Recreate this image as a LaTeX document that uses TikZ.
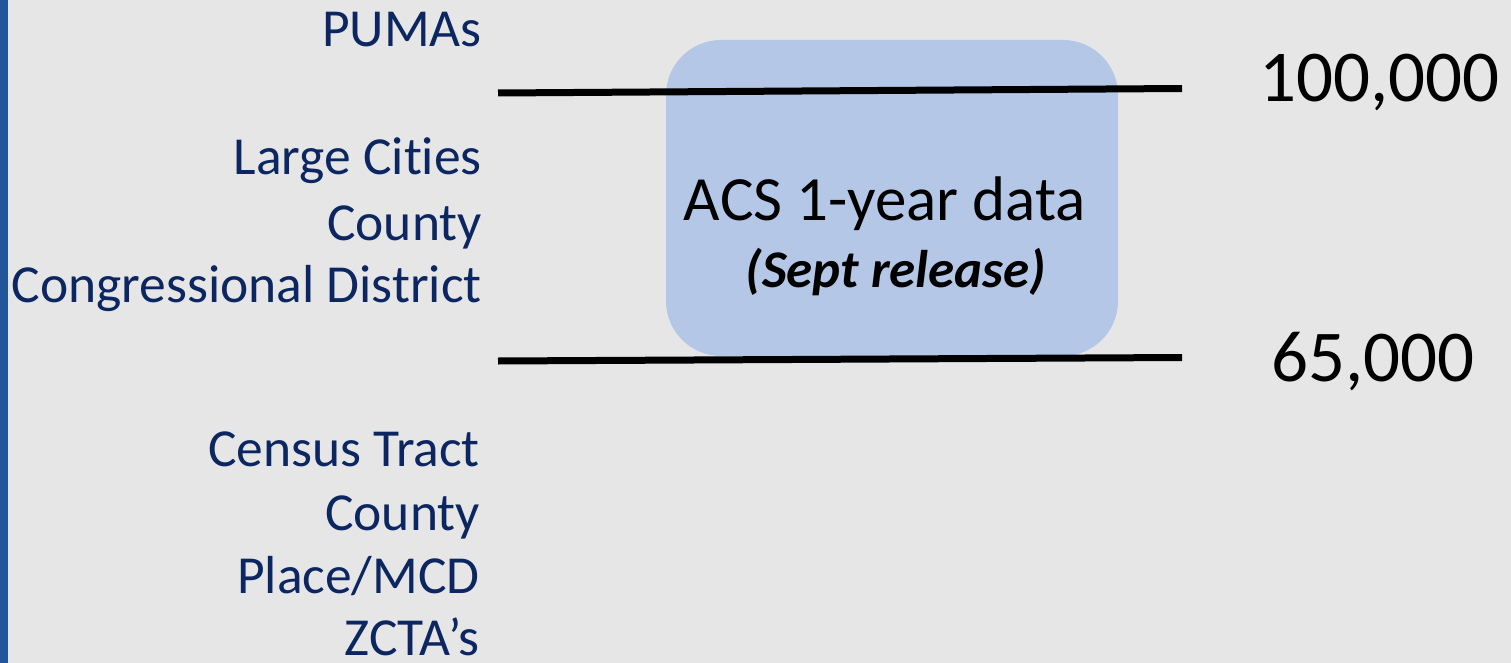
\documentclass[tikz,border=0pt]{standalone}
\usepackage{fontspec}
\setmainfont{Carlito}[RawFeature=-liga]
\definecolor{bg}{HTML}{E7E6E6}
\definecolor{bar}{HTML}{22559A}
\definecolor{navy}{HTML}{0B2661}
\definecolor{boxfill}{HTML}{B4C7E7}
\tikzset{
  geo/.style={anchor=base east, inner sep=0pt, text=navy, font=\fontsize{53.5}{64}\selectfont},
  num/.style={anchor=base west, inner sep=0pt, text=black, font=\fontsize{73}{88}\selectfont},
  thresh/.style={line width=7pt, black},
}
\begin{document}
\begin{tikzpicture}[x=1pt,y=-1pt]
\useasboundingbox (0,0) rectangle (1511,663);
\fill[bg] (0,0) rectangle (1511,663);
\fill[bar] (0,0) rectangle (8,663);
% box
\node[draw=none, fill=boxfill, rounded corners=55pt, minimum width=452pt, minimum height=316pt, inner sep=0pt] (acs) at (892,198) {};
\node[anchor=base, inner sep=0pt, font=\fontsize{63}{76}\selectfont] (acst) at (885,220) {ACS 1-year data};
\node[anchor=base, inner sep=0pt, font=\fontsize{53}{64}\selectfont\bfseries\itshape] (sept) at (896,287) {(Sept release)};
% lines
\coordinate (t1) at (498,93);
\coordinate (t2) at (1182,88.5);
\coordinate (b1) at (498,361);
\coordinate (b2) at (1182,357.5);
\draw[thresh] (t1) -- (t2);
\draw[thresh] (b1) -- (b2);
% numbers
\node[num] (n100) at (1259,102) {100,000};
\node[num] (n65) at (1271,381) {65,000};
% left labels
\node[geo] (pumas) at (482,47) {PUMAs};
\node[geo] (large) at (482,175) {Large Cities};
\node[geo] (cty1) at (482,240) {County};
\node[geo] (cong) at (482,302) {Congressional District};
\node[geo] (tract) at (480,466) {Census Tract};
\node[geo] (cty2) at (480,530) {County};
\node[geo] (place) at (480,593) {Place/MCD};
\node[geo] (zcta) at (480,655) {ZCTA’s};
\end{tikzpicture}
\end{document}
